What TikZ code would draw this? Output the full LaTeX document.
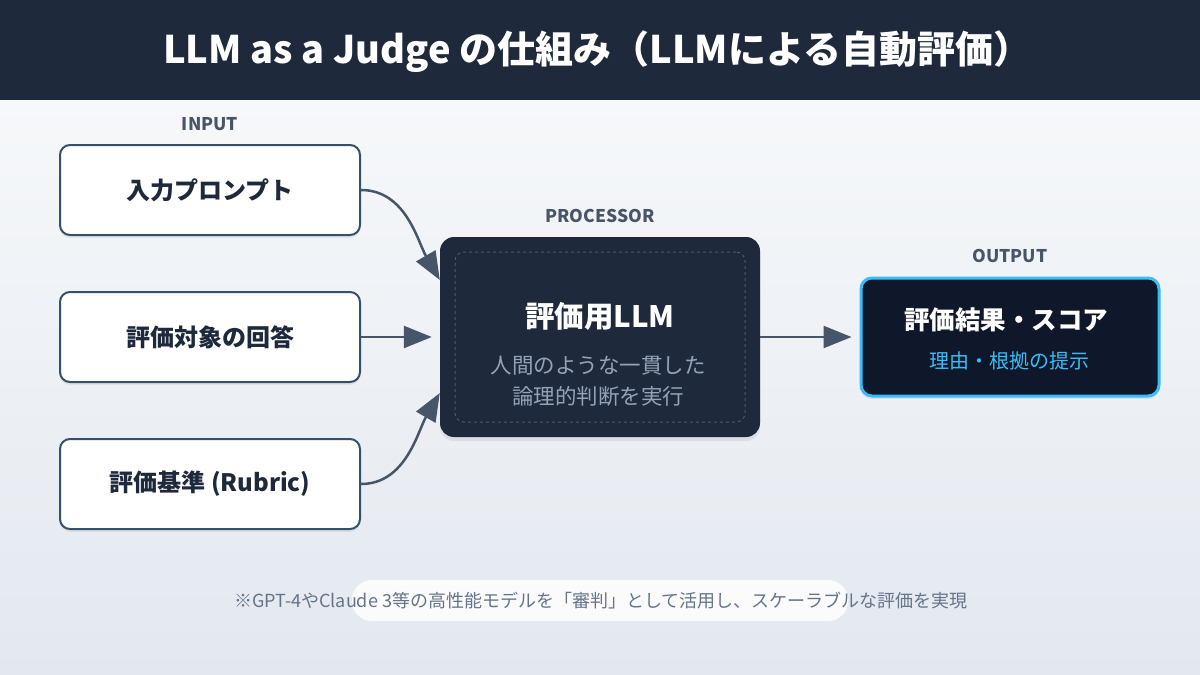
\documentclass[tikz,border=0pt]{standalone}
\usepackage{fontspec}
\setmainfont{Noto Sans CJK JP}
\usetikzlibrary{arrows.meta,shadows,calc}
\definecolor{navy}{HTML}{1E293B}
\definecolor{deep}{HTML}{0F172A}
\definecolor{slate}{HTML}{475569}
\definecolor{boxedge}{HTML}{34506B}
\definecolor{sky}{HTML}{38BDF8}
\definecolor{subgray}{HTML}{94A3B8}
\definecolor{dashgray}{HTML}{4B5A6E}
\definecolor{notegray}{HTML}{64748B}
\definecolor{bgA}{HTML}{F6F8FA}
\definecolor{bgB}{HTML}{E3E8EF}
\tikzset{
  inbox/.style={draw=boxedge, line width=2pt, fill=white, rounded corners=10pt,
    minimum width=300pt, minimum height=90pt, text=navy,
    font=\fontsize{24}{28}\selectfont\bfseries,
    drop shadow={opacity=0.12, shadow xshift=0pt, shadow yshift=-3pt}},
  seclabel/.style={text=slate, font=\fontsize{17.5}{20}\selectfont\bfseries},
  flow/.style={draw=slate, line width=2.5pt, -{Triangle[length=28pt,width=22pt]}},
}
\begin{document}
\begin{tikzpicture}[x=1pt,y=-1pt]
\useasboundingbox (0,0) rectangle (1200,675);
\shade[shading=axis, left color=bgA, right color=bgB, shading angle=0] (0,100) rectangle (1200,675);
\fill[navy] (0,0) rectangle (1200,100);
\node[text=white, font=\fontsize{38}{40}\selectfont\bfseries] (title) at (597,52) {LLM as a Judge の仕組み（LLMによる自動評価）};

% section labels
\node[seclabel] (linput) at (210,124) {INPUT};
\node[seclabel] (lproc) at (600,216) {PROCESSOR};
\node[seclabel] (lout) at (1010,256) {OUTPUT};

% input boxes
\node[inbox] (in1) at (210,190) {入力プロンプト};
\node[inbox] (in2) at (210,337) {評価対象の回答};
\node[inbox] (in3) at (210,484) {評価基準 (Rubric)};

% processor
\node[fill=navy, rounded corners=14pt, minimum width=320pt, minimum height=200pt,
  drop shadow={opacity=0.15, shadow xshift=0pt, shadow yshift=-4pt}] (proc) at (600,337) {};
\node[draw=dashgray, dashed, line width=1pt, rounded corners=9pt, minimum width=290pt, minimum height=170pt] (procin) at (600,337) {};
\node[text=white, font=\fontsize{29.5}{31}\selectfont\bfseries] (ptitle) at (600,316) {評価用LLM};
\node[text=subgray, font=\fontsize{21.5}{31}\selectfont, align=center] (psub) at (598,381) {人間のような一貫した\\論理的判断を実行};

% output
\node[draw=sky, line width=3pt, fill=deep, rounded corners=11pt, minimum width=298pt, minimum height=118pt,
  drop shadow={opacity=0.12, shadow xshift=0pt, shadow yshift=-3pt}] (out) at (1010,337) {};
\node[text=white, font=\fontsize{25.5}{27}\selectfont\bfseries] (otitle) at (1006,320) {評価結果・スコア};
\node[text=sky, font=\fontsize{20}{22}\selectfont] (osub) at (1009,361) {理由・根拠の提示};

% connectors
\coordinate (p1) at ($(proc.west)+(0,-57)$);
\coordinate (p3) at ($(proc.west)+(0,56)$);
\draw[flow] (in1.east) .. controls +(45,0) and +(-22,-38) .. (p1);
\draw[flow, shorten >=8pt] (in2.east) -- (proc.west);
\draw[flow] (in3.east) .. controls +(45,0) and +(-22,38) .. (p3);
\draw[flow, shorten >=8pt] (proc.east) -- (out.west);

% footnote
\fill[white, opacity=0.85, rounded corners=20pt] (352,580) rectangle (848,621);
\node[text=notegray, font=\fontsize{18}{20}\selectfont] (note) at (601,601) {※GPT-4やClaude 3等の高性能モデルを「審判」として活用し、スケーラブルな評価を実現};
\end{tikzpicture}
\end{document}
